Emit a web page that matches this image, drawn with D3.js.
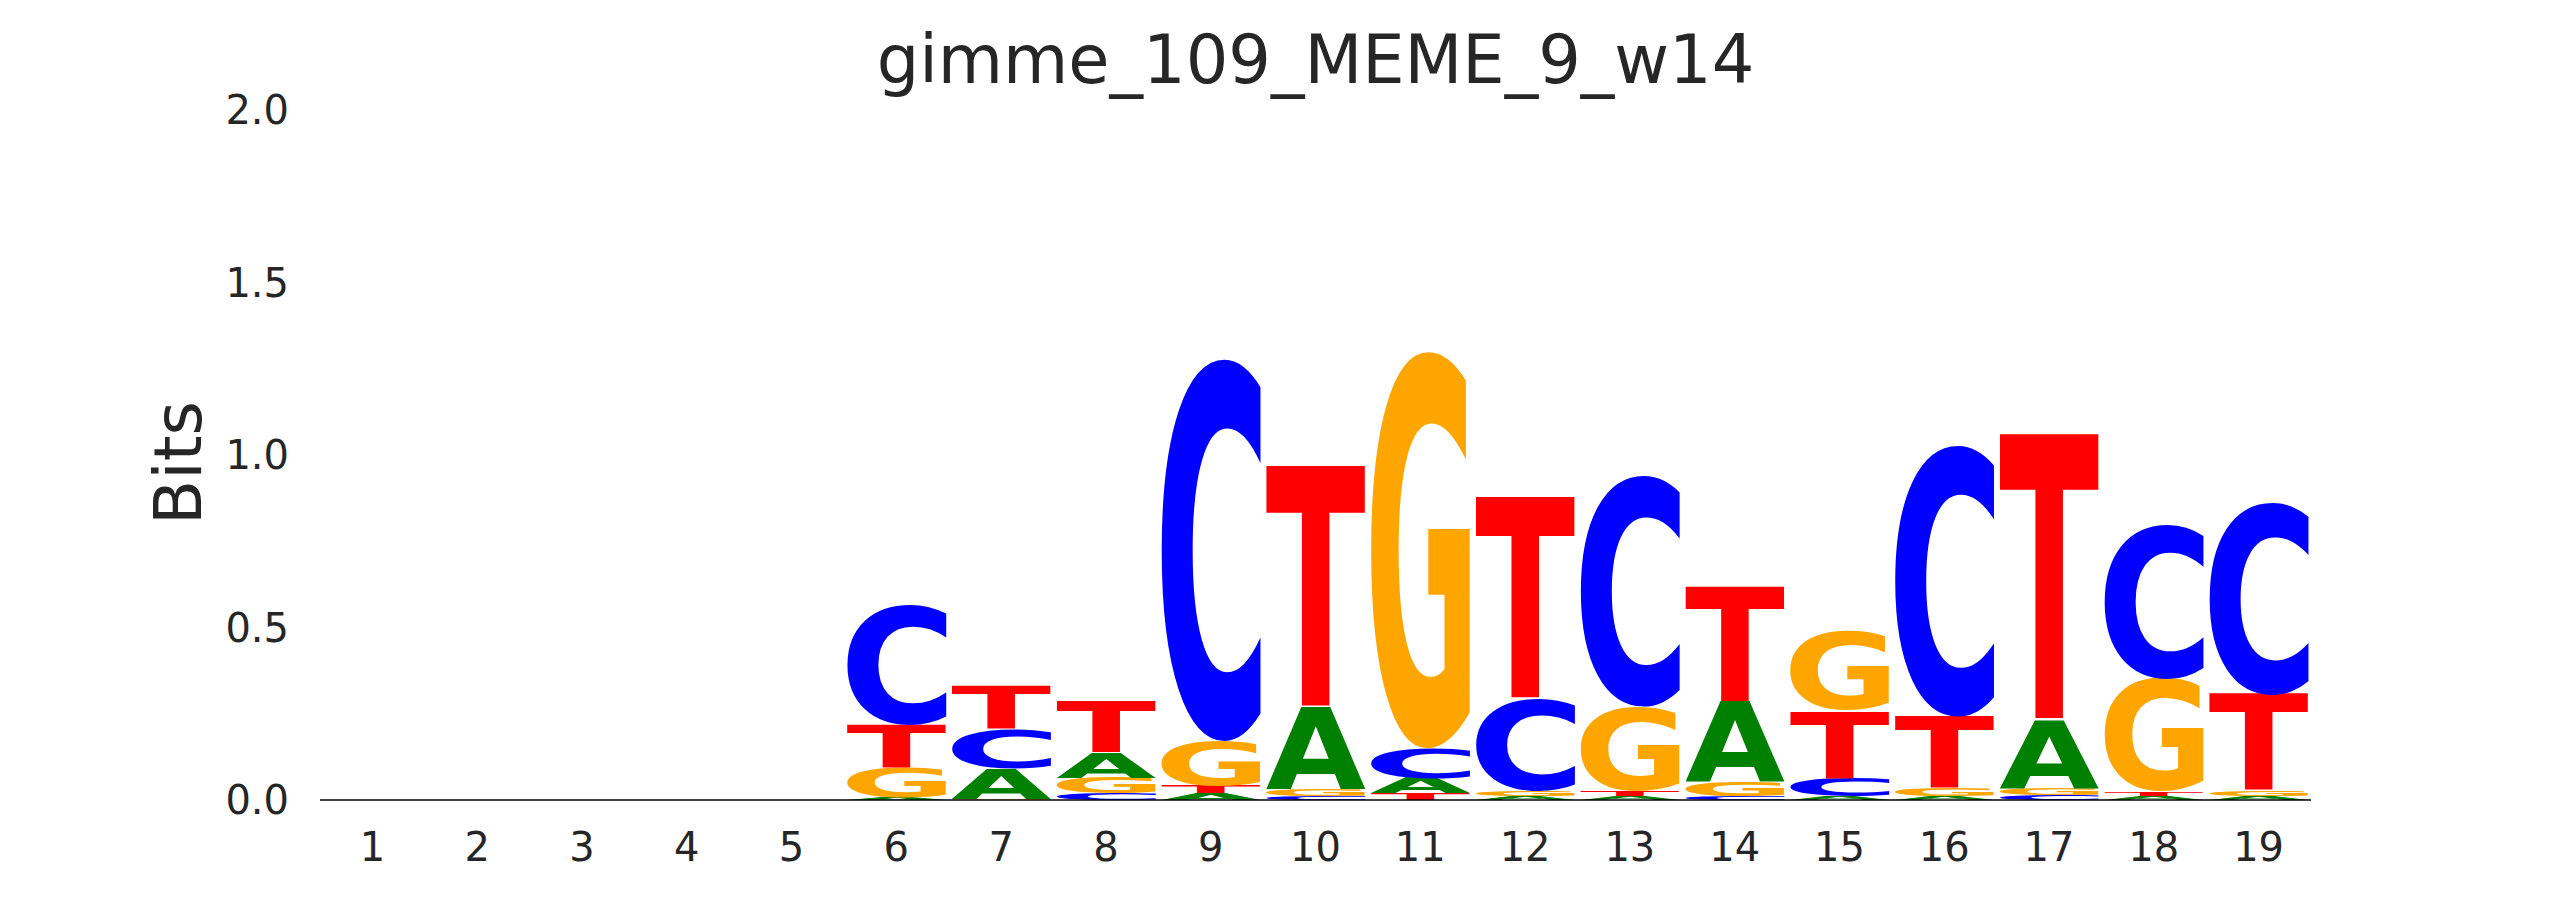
<!DOCTYPE html>
<html>
<head>
<meta charset="utf-8">
<script src="https://cdn.jsdelivr.net/npm/d3@7"></script>
<style>
  html, body { margin: 0; padding: 0; background: #ffffff; }
  svg { display: block; }
</style>
</head>
<body>
<svg id="chart" width="2565" height="900"></svg>
<script>
// ---------- data ----------
const title = "gimme_109_MEME_9_w14";
const yLabel = "Bits";
const positions = [1,2,3,4,5,6,7,8,9,10,11,12,13,14,15,16,17,18,19];
const bases = ["A", "C", "G", "T"];
const heightsA = [0,0,0,0,0, 0.008, 0.087, 0.072, 0.019, 0.238, 0.043, 0.012, 0.012, 0.234, 0.010, 0.012, 0.197, 0.012, 0.012];
const heightsC = [0,0,0,0,0, 0.351, 0.113, 0.019, 1.110, 0.012, 0.087, 0.266, 0.672, 0.010, 0.053, 0.788, 0.014, 0.448, 0.556];
const heightsG = [0,0,0,0,0, 0.085, 0.004, 0.046, 0.130, 0.019, 1.153, 0.016, 0.244, 0.042, 0.233, 0.022, 0.021, 0.328, 0.015];
const heightsT = [0,0,0,0,0, 0.124, 0.124, 0.146, 0.021, 0.700, 0.019, 0.585, 0.014, 0.336, 0.195, 0.207, 0.829, 0.012, 0.279];
const yTicks = [0.0, 0.5, 1.0, 1.5, 2.0];
const baseColors = { A: "#008000", C: "#0000ff", G: "#ffa500", T: "#ff0000" };

// ---------- layout ----------
const svg = d3.select("#chart");
const textColor = "#262626";
const fontFam = "'DejaVu Sans', sans-serif";

const x = d3.scaleLinear().domain([0.5, 19.5]).range([320, 2311]);
const y = d3.scaleLinear().domain([0, 2]).range([800, 110]);
const letterWidth = 0.95;

// Tight glyph bounds via canvas
const ctx = document.createElement("canvas").getContext("2d");
const FS = 200;
ctx.font = `bold ${FS}px "DejaVu Sans"`;
const glyphBounds = {};
bases.forEach(b => {
  const m = ctx.measureText(b);
  glyphBounds[b] = {
    l: m.actualBoundingBoxLeft, r: m.actualBoundingBoxRight,
    a: m.actualBoundingBoxAscent, d: m.actualBoundingBoxDescent
  };
});

const table = { A: heightsA, C: heightsC, G: heightsG, T: heightsT };
const letters = [];
positions.forEach((p, i) => {
  const col = bases.map(b => ({ base: b, h: table[b][i] })).filter(d => d.h > 0);
  col.sort((a, b) => a.h - b.h);
  let acc = 0;
  col.forEach(d => {
    letters.push({ pos: p, base: d.base, y0: acc, y1: acc + d.h });
    acc += d.h;
  });
});

const gLetters = svg.append("g");
gLetters.selectAll("text.letter")
  .data(letters)
  .join("text")
  .attr("class", "letter")
  .attr("font-family", "DejaVu Sans")
  .attr("font-weight", "bold")
  .attr("font-size", FS)
  .attr("fill", d => baseColors[d.base])
  .text(d => d.base)
  .attr("transform", d => {
    const gb = glyphBounds[d.base];
    const x0 = x(d.pos - letterWidth / 2);
    const x1 = x(d.pos + letterWidth / 2);
    const top = y(d.y1), bot = y(d.y0);
    const sx = (x1 - x0) / (gb.l + gb.r);
    const sy = (bot - top) / (gb.a + gb.d);
    return `translate(${x0},${top}) scale(${sx},${sy}) translate(${gb.l},${gb.a})`;
  });

// x axis line
svg.append("line")
  .attr("x1", x(0.5)).attr("x2", x(19.5))
  .attr("y1", y(0)).attr("y2", y(0))
  .attr("stroke", "#000").attr("stroke-width", 1.5);

// x tick labels
svg.append("g").selectAll("text")
  .data(positions)
  .join("text")
  .attr("x", d => x(d))
  .attr("y", 861)
  .attr("text-anchor", "middle")
  .attr("font-family", fontFam)
  .attr("font-size", 40)
  .attr("fill", textColor)
  .text(d => d);

// y tick labels
svg.append("g").selectAll("text")
  .data(yTicks)
  .join("text")
  .attr("x", 289)
  .attr("y", d => y(d))
  .attr("dy", "0.36em")
  .attr("text-anchor", "end")
  .attr("font-family", fontFam)
  .attr("font-size", 40)
  .attr("fill", textColor)
  .text(d => d3.format(".1f")(d));

// y label
svg.append("text")
  .attr("transform", `translate(201,463) rotate(-90)`)
  .attr("text-anchor", "middle")
  .attr("font-family", fontFam)
  .attr("font-size", 66)
  .attr("fill", textColor)
  .text(yLabel);

// title
svg.append("text")
  .attr("x", (x(0.5) + x(19.5)) / 2)
  .attr("y", 83)
  .attr("text-anchor", "middle")
  .attr("font-family", fontFam)
  .attr("font-size", 67)
  .attr("fill", textColor)
  .text(title);
</script>
</body>
</html>
